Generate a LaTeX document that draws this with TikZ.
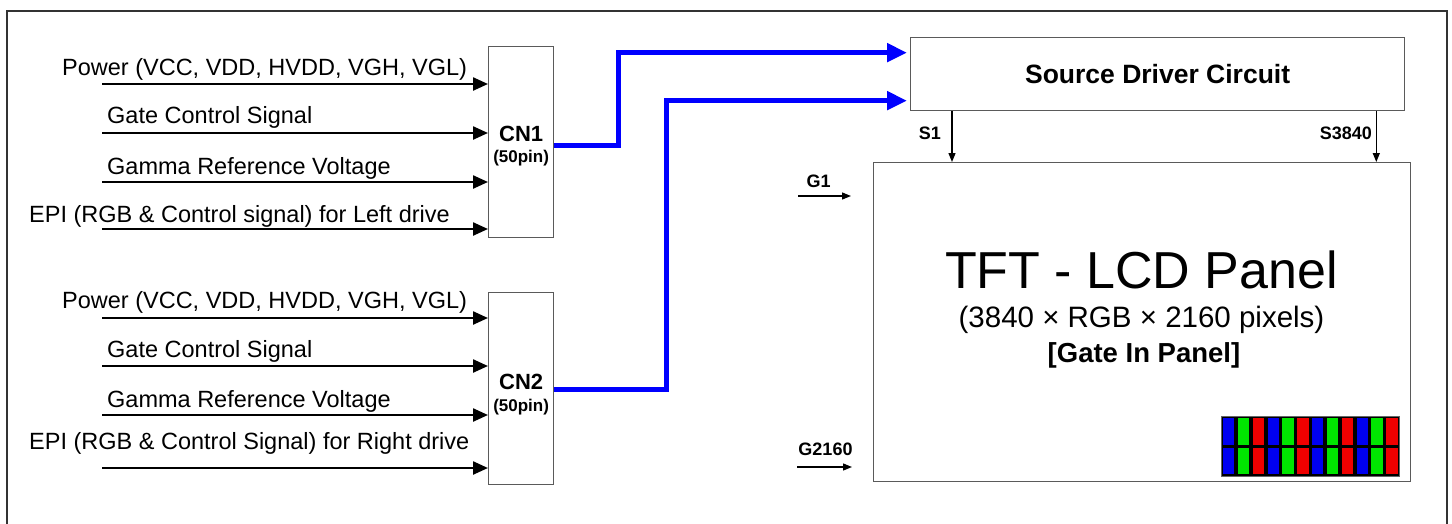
\documentclass[tikz,border=0pt]{standalone}
\usepackage{fontspec}
\setmainfont{Liberation Sans}
\usetikzlibrary{arrows.meta,calc}
\definecolor{busblue}{RGB}{0,0,255}
\definecolor{pxr}{RGB}{240,0,0}
\definecolor{pxg}{RGB}{0,230,0}
\definecolor{pxb}{RGB}{0,0,240}
\definecolor{boxgray}{RGB}{90,90,90}
\begin{document}
\begin{tikzpicture}[x=1pt,y=-1pt,
  frame/.style={draw=black!80, line width=2pt},
  blk/.style={draw=boxgray, line width=1.3pt, inner sep=0pt},
  sig/.style={line width=2.4pt, -{Triangle[length=15pt,width=13pt]}},
  bus/.style={draw=busblue, line width=5pt, line join=miter, -{Triangle[length=20pt,width=18pt]}},
  tick/.style={line width=1.3pt, -{Triangle[length=9pt,width=7pt]}},
  lbl/.style={font=\fontsize{23.5}{26}\selectfont, anchor=base west, inner sep=0pt},
  small/.style={font=\fontsize{18}{20}\selectfont\bfseries, inner sep=0pt},
  cnlbl/.style={font=\fontsize{22}{24}\selectfont\bfseries, inner sep=0pt},
  pinlbl/.style={font=\fontsize{17}{19}\selectfont\bfseries, inner sep=0pt}
]
\useasboundingbox (0,0) rectangle (1452,523);
\fill[white] (0,0) rectangle (1452,523);
\draw[frame] (7,545) -- (7,11) -- (1447,11) -- (1447,545);

% connectors boxes
\node[blk, minimum width=65pt, minimum height=191pt, anchor=north west] (cn1) at (488,46) {};
\node[blk, minimum width=65pt, minimum height=192pt, anchor=north west] (cn2) at (488,292) {};
\node[cnlbl] (cn1t) at ([yshift=8pt]cn1.center) {CN1};
\node[pinlbl] (cn1p) at ([yshift=-15.5pt]cn1.center) {(50pin)};
\node[cnlbl] (cn2t) at ([yshift=7pt]cn2.center) {CN2};
\node[pinlbl] (cn2p) at ([yshift=-18pt]cn2.center) {(50pin)};

% input arrows
\foreach \y [count=\i] in {84,133,182,229} {
  \coordinate (a\i) at (102,\y);
  \draw[sig] (a\i) -- (a\i -| cn1.west);
}
\foreach \y [count=\i] in {318,366,415,468} {
  \coordinate (b\i) at (102,\y);
  \draw[sig] (b\i) -- (b\i -| cn2.west);
}
\node[lbl] (l11) at (62,75) {Power (VCC, VDD, HVDD, VGH, VGL)};
\node[lbl] (l12) at (107,123) {Gate Control Signal};
\node[lbl] (l13) at (107,174) {Gamma Reference Voltage};
\node[lbl] (l14) at (29,222) {EPI (RGB \& Control signal) for Left drive};
\node[lbl] (l21) at (62,308) {Power (VCC, VDD, HVDD, VGH, VGL)};
\node[lbl] (l22) at (107,357) {Gate Control Signal};
\node[lbl] (l23) at (107,407) {Gamma Reference Voltage};
\node[lbl] (l24) at (29,449) {EPI (RGB \& Control Signal) for Right drive};

% source driver and panel
\node[blk, minimum width=494pt, minimum height=73pt, anchor=north west,
      font=\fontsize{26.5}{28}\selectfont\bfseries] (src) at (910,37) {Source Driver Circuit};
\node[blk, minimum width=537pt, minimum height=319pt, anchor=north west] (panel) at (873,162) {};

% blue buses
\draw[bus] ([yshift=-3.5pt]cn1.east) -- ++(64,0) |- ([yshift=21.5pt,xshift=-3pt]src.west);
\draw[bus] ([yshift=-1pt]cn2.east) -- ++(112,0) |- ([yshift=-26.5pt,xshift=-3pt]src.west);

% source lines
\coordinate (s1) at ($(src.south west)+(42,0)$);
\coordinate (s2) at ($(src.south east)+(-29,0)$);
\draw[tick] (s1) -- (s1 |- panel.north);
\draw[tick] (s2) -- (s2 |- panel.north);
\node[small, anchor=east] (s1t) at (941,133) {S1};
\node[small, anchor=east] (s2t) at (1372,133) {S3840};

% gate lines
\coordinate (g1a) at (798,196); \coordinate (g1b) at (851,196);
\coordinate (g2a) at (797,467); \coordinate (g2b) at (852,467);
\draw[tick] (g1a) -- (g1b);
\draw[tick] (g2a) -- (g2b);
\node[small, anchor=base] (g1t) at (818.5,187) {G1};
\node[small, anchor=base] (g2t) at (825.5,455) {G2160};

% panel text
\node[font=\fontsize{52}{56}\selectfont, anchor=base, inner sep=0pt] (t1) at (1141.5,288) {TFT - LCD Panel};
\node[font=\fontsize{29.5}{31}\selectfont, anchor=base, inner sep=0pt] (t2) at (1141.5,327) {(3840 × RGB × 2160 pixels)};
\node[font=\fontsize{27.5}{29}\selectfont\bfseries, anchor=base, inner sep=0pt] (t3) at (1144,362) {[Gate In Panel]};

% pixel pattern
\fill[black] (1221,416) rectangle (1399,476);
\foreach \k in {0,3,6,9} {
  \fill[pxb] ({1223+\k*14.833},418) rectangle ({1221+(\k+1)*14.833-1.5},445);
  \fill[pxg] ({1223+(\k+1)*14.833},418) rectangle ({1221+(\k+2)*14.833-1.5},445);
  \fill[pxr] ({1223+(\k+2)*14.833},418) rectangle ({1221+(\k+3)*14.833-1.5},445);
  \fill[pxb] ({1223+\k*14.833},447.5) rectangle ({1221+(\k+1)*14.833-1.5},474);
  \fill[pxg] ({1223+(\k+1)*14.833},447.5) rectangle ({1221+(\k+2)*14.833-1.5},474);
  \fill[pxr] ({1223+(\k+2)*14.833},447.5) rectangle ({1221+(\k+3)*14.833-1.5},474);
}
\draw[black!60, line width=0.8pt] (1221,416) rectangle (1399,476);
\end{tikzpicture}
\end{document}
